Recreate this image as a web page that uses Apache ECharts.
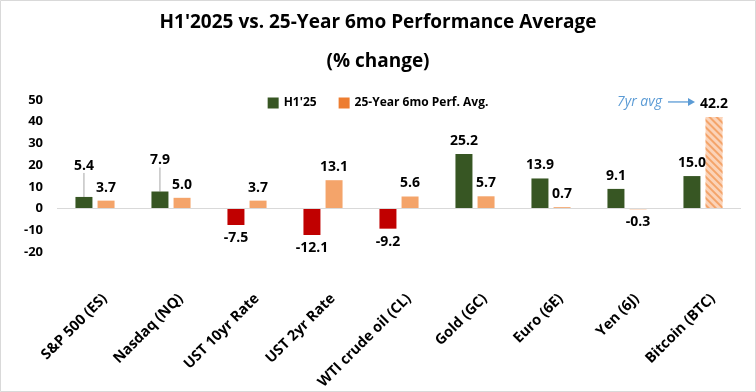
<!DOCTYPE html>
<html>
<head>
<meta charset="utf-8">
<script src="https://cdn.jsdelivr.net/npm/echarts@6/dist/echarts.min.js"></script>
<style>
html,body{margin:0;padding:0;background:#fff;}
#chart{width:756px;height:392px;}
</style>
</head>
<body>
<div id="chart"></div>
<script>
const categories = ['S&P 500 (ES)', 'Nasdaq (NQ)', 'UST 10yr Rate', 'UST 2yr Rate', 'WTI crude oil (CL)', 'Gold (GC)', 'Euro (6E)', 'Yen (6J)', 'Bitcoin (BTC)'];
const h1Values = [5.4, 7.9, -7.5, -12.1, -9.2, 25.2, 13.9, 9.1, 15.0];
const avgValues = [3.7, 5.0, 3.7, 13.1, 5.6, 5.7, 0.7, -0.3, 42.2];
const yTicks = [-20, -10, 0, 10, 20, 30, 40, 50];
const seriesNames = ["H1'25", '25-Year 6mo Perf. Avg.'];
const titleLines = ["H1'2025 vs. 25-Year 6mo Performance Average", '(% change)'];
const noteText = '7yr avg';

const FONT = 'Open Sans';
const GREEN = '#375623', RED = '#C00000', ORANGE = '#F4A46A', ORANGE_DARK = '#ED7D31';

const chart = echarts.init(document.getElementById('chart'), null, {renderer: 'canvas'});

const h1Data = h1Values.map((v, i) => ({
  value: v,
  itemStyle: {color: v < 0 ? RED : GREEN},
  label: {position: v < 0 ? 'bottom' : 'top'},
  labelLine: {show: i < 2, lineStyle: {color: '#A6A6A6', width: 1}}
}));
const avgData = avgValues.map((v, i) => {
  const d = {value: v, itemStyle: {color: ORANGE}, label: {position: v < 0 ? 'bottom' : 'top'}};
  if (i === avgValues.length - 1) {
    d.itemStyle = {
      color: '#FBD3B8',
      decal: {symbol: 'rect', symbolSize: 1, color: ORANGE, dashArrayX: [1, 0], dashArrayY: [2, 3], rotation: Math.PI / 4}
    };
  }
  return d;
});

const labelCommon = {
  show: true,
  distance: 6,
  color: '#000',
  fontFamily: FONT,
  fontWeight: 'bold',
  fontSize: 14,
  formatter: p => p.value.toFixed(1),
  position: 'top'
};

const option = {
  backgroundColor: '#fff',
  animation: false,
  title: [
    {text: titleLines[0], left: 'center', top: 8, textStyle: {fontFamily: FONT, fontWeight: 'bold', fontSize: 19, color: '#000'}},
    {text: titleLines[1], left: 'center', top: 47, textStyle: {fontFamily: FONT, fontWeight: 'bold', fontSize: 19, color: '#000'}}
  ],
  legend: {
    data: [
      {name: seriesNames[0], itemStyle: {color: GREEN}},
      {name: seriesNames[1], itemStyle: {color: ORANGE_DARK}}
    ],
    top: 92,
    left: 'center',
    icon: 'rect',
    itemWidth: 11,
    itemHeight: 11,
    itemGap: 22,
    textStyle: {fontFamily: FONT, fontWeight: 'bold', fontSize: 12, color: '#000'}
  },
  grid: {left: 57, right: 15, top: 100, bottom: 136},
  xAxis: {
    type: 'category',
    data: categories,
    axisLine: {show: false, onZero: false},
    axisTick: {show: false},
    axisLabel: {rotate: 45, margin: 54, interval: 0, padding: [0, -14, 0, 0], fontFamily: FONT, fontWeight: 'bold', fontSize: 14.5, color: '#000'}
  },
  yAxis: {
    type: 'value',
    min: yTicks[0],
    max: yTicks[yTicks.length - 1],
    interval: 10,
    splitLine: {show: false},
    axisLine: {show: false},
    axisTick: {show: false},
    axisLabel: {margin: 14, fontFamily: FONT, fontWeight: 'bold', fontSize: 13, color: '#000'}
  },
  series: [
    {
      name: seriesNames[0],
      type: 'bar',
      barWidth: 17,
      barGap: '30%',
      data: h1Data,
      label: labelCommon,
      labelLayout: p => (p.dataIndex < 2 ? {dy: -18} : {}),
      labelLine: {show: false},
      markLine: {
        silent: true,
        symbol: 'none',
        label: {show: false},
        lineStyle: {color: '#D9D9D9', type: 'solid', width: 1},
        data: [{yAxis: 0}]
      }
    },
    {
      name: seriesNames[1],
      type: 'bar',
      barWidth: 17,
      barGap: '30%',
      data: avgData,
      label: labelCommon
    }
  ]
};
chart.setOption(option);

// annotation "7yr avg ->" placed relative to the Bitcoin bar label
const last = categories.length - 1;
const p = chart.convertToPixel({gridIndex: 0}, [last, avgValues[last]]);
const ty = p[1] - 15;
chart.setOption({
  graphic: [
    {type: 'rect', silent: true, shape: {x: 0.5, y: 0.5, width: 755, height: 391}, style: {fill: null, stroke: '#D9D9D9', lineWidth: 1}},
    {type: 'text', silent: true, style: {text: noteText, x: p[0] - 41, y: ty, align: 'right', verticalAlign: 'middle', fill: '#5B9BD5', font: 'italic 14px "' + FONT + '"'}},
    {type: 'line', silent: true, shape: {x1: p[0] - 35, y1: ty, x2: p[0] - 14, y2: ty}, style: {stroke: '#5B9BD5', lineWidth: 1.3}},
    {type: 'polygon', silent: true, shape: {points: [[p[0] - 15, ty - 4], [p[0] - 8, ty], [p[0] - 15, ty + 4]]}, style: {fill: '#5B9BD5'}}
  ]
});
</script>
</body>
</html>
